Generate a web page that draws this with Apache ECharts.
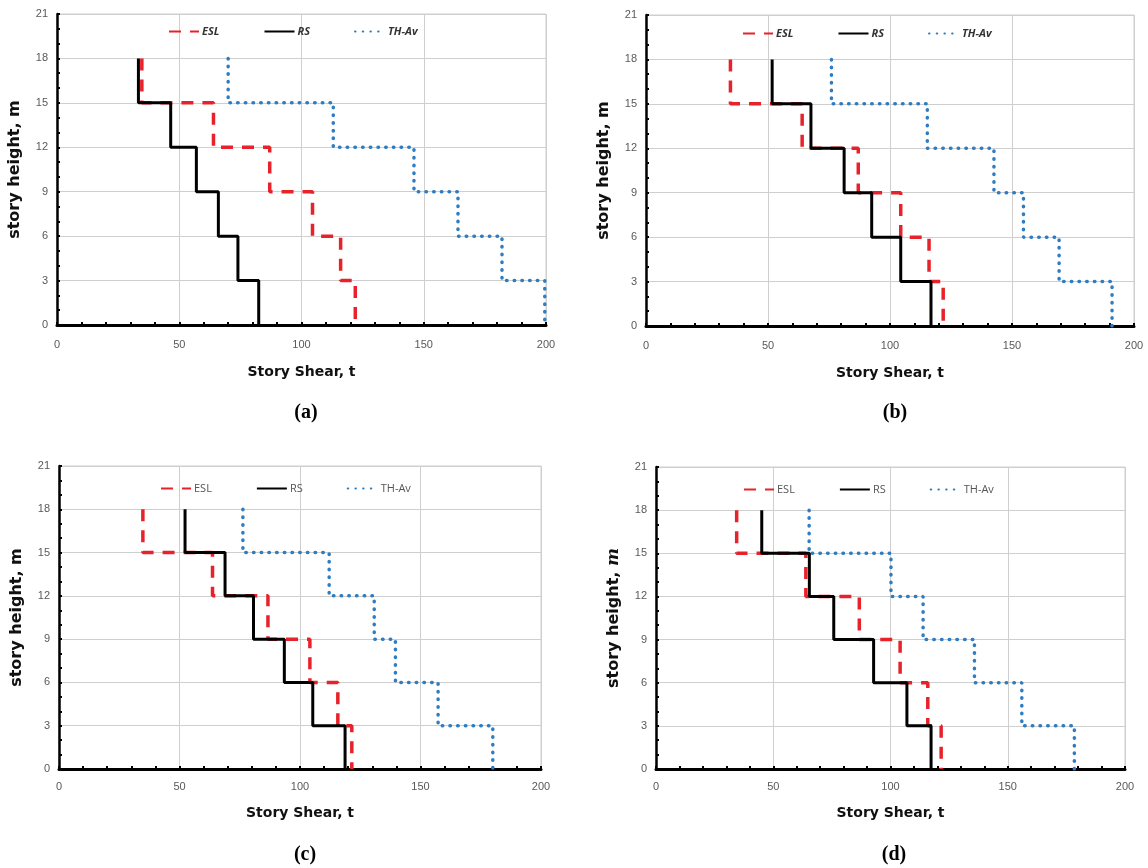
<!DOCTYPE html>
<html>
<head>
<meta charset="utf-8">
<script src="https://cdn.jsdelivr.net/npm/echarts@6/dist/echarts.min.js"></script>
<style>
html,body{margin:0;padding:0;background:#fff;}
#main{width:1148px;height:868px;}
</style>
</head>
<body>
<div id="main"></div>
<script>
// Story levels (top of story down to base), m
const storyLevels = [18, 15, 12, 9, 6, 3, 0];
const yTicks = ['0','3','6','9','12','15','18','21'];
const xTicks = ['0','50','100','150','200'];
const seriesNames = ['ESL', 'RS', 'TH-Av'];
const panelLabels = ['(a)', '(b)', '(c)', '(d)'];

// Story shear (t) per story, from top story to bottom story
const eslA = [34.7, 64, 87, 104.5, 116, 122];
const rsA  = [33.3, 46.5, 57, 66, 74, 82.5];
const thA  = [70, 113, 146, 164, 182, 199.5];

const eslB = [34.6, 64, 87, 104.4, 116, 121.8];
const rsB  = [51.7, 67.6, 81.2, 92.5, 104.4, 116.8];
const thB  = [76, 115.3, 142.6, 154.7, 169.3, 191];

const eslC = [34.8, 63.7, 86.7, 104.1, 115.7, 121.5];
const rsC  = [52.3, 68.9, 80.7, 93.5, 105.3, 118.7];
const thC  = [76.3, 112.1, 130.8, 139.6, 157.3, 180];

const eslD = [34.4, 63.9, 86.7, 104.1, 115.9, 121.6];
const rsD  = [45.1, 65.4, 75.8, 92.8, 107, 117.3];
const thD  = [65.3, 100.2, 113.9, 135.8, 156, 178.4];

const panelData = [
  [eslA, rsA, thA],
  [eslB, rsB, thB],
  [eslC, rsC, thC],
  [eslD, rsD, thD]
];

function stepPoints(vals) {
  const pts = [];
  for (let i = 0; i < vals.length; i++) {
    pts.push([vals[i], storyLevels[i]]);
    pts.push([vals[i], storyLevels[i + 1]]);
  }
  return pts;
}

const grids = [
  {left: 57, right: 602, top: 14, bottom: 543},
  {left: 646, right: 14, top: 15, bottom: 542},
  {left: 59, right: 607, top: 466, bottom: 99},
  {left: 656, right: 23, top: 467, bottom: 99}
];
const legendPos = [
  {left: 163, top: 21, italic: true},
  {left: 737, top: 23, italic: true},
  {left: 155, top: 478, italic: false},
  {left: 738, top: 479, italic: false}
];
const titlePos = [
  {x: 301, y: 398}, {x: 890, y: 398}, {x: 300, y: 840}, {x: 889, y: 840}
];
const xNameGap = [40, 40, 37, 37];
const xLabelMargin = [14, 14, 12, 12];

const styles = [
  {color: '#e8222a', width: 3.5, type: [12, 9], cap: 'butt'},
  {color: '#000000', width: 3, type: 'solid', cap: 'butt'},
  {color: '#2f7cc0', width: 3.5, type: [0.5, 7.2], cap: 'round'}
];

const xAxes = [], yAxes = [], series = [], legends = [], titles = [];
grids.forEach((g, k) => {
  xAxes.push({
    type: 'value', gridIndex: k, min: 0, max: 200, interval: 50,
    name: 'Story Shear, t', nameLocation: 'middle', nameGap: xNameGap[k],
    nameTextStyle: {fontFamily: 'DejaVu Sans', fontWeight: 'bold', fontSize: 14, color: '#111'},
    axisLine: {show: true, onZero: false, lineStyle: {color: '#000', width: 3}},
    axisTick: {show: true, inside: true, length: 3, lineStyle: {color: '#000', width: 2}},
    minorTick: {show: true, splitNumber: 5, length: 3, lineStyle: {color: '#000', width: 2}},
    axisLabel: {color: '#595959', fontSize: 11, fontFamily: 'Liberation Sans', margin: xLabelMargin[k],
      formatter: (v) => xTicks[v / 50]},
    splitLine: {show: true, lineStyle: {color: '#cfcfcf', width: 1}}
  });
  const yName = k === 3 ? '{b|story height, }{i|m}' : 'story height, m';
  yAxes.push({
    type: 'value', gridIndex: k, min: 0, max: 21, interval: 3,
    name: yName, nameLocation: 'middle', nameGap: 34, nameRotate: 90,
    nameTextStyle: {fontFamily: 'DejaVu Sans', fontWeight: 'bold', fontSize: 16, color: '#111',
      rich: {b: {fontFamily: 'DejaVu Sans', fontWeight: 'bold', fontSize: 16, color: '#111'},
             i: {fontFamily: 'DejaVu Serif', fontWeight: 'bold', fontStyle: 'italic', fontSize: 17, color: '#111'}}},
    axisLine: {show: true, onZero: false, lineStyle: {color: '#000', width: 2.5}},
    axisTick: {show: true, inside: true, length: 3, lineStyle: {color: '#000', width: 2}},
    minorTick: {show: true, splitNumber: 3, length: 3, lineStyle: {color: '#000', width: 2}},
    axisLabel: {color: '#595959', fontSize: 11, fontFamily: 'Liberation Sans', margin: 9,
      formatter: (v) => yTicks[v / 3]},
    splitLine: {show: true, lineStyle: {color: '#cfcfcf', width: 1}}
  });
  panelData[k].forEach((vals, s) => {
    series.push({
      type: 'line', name: seriesNames[s], xAxisIndex: k, yAxisIndex: k,
      data: stepPoints(vals), symbol: 'none', silent: true, animation: false,
      z: s === 1 ? 4 : 3,
      lineStyle: {color: styles[s].color, width: styles[s].width, type: styles[s].type, cap: styles[s].cap},
      itemStyle: {color: styles[s].color}
    });
  });
  const lp = legendPos[k];
  legends.push({
    data: seriesNames, left: lp.left, top: lp.top, itemWidth: 30, itemHeight: 12, itemGap: 44,
    selectedMode: false,
    itemStyle: {opacity: 0, borderWidth: 0},
    textStyle: {fontFamily: 'Open Sans', fontSize: 11, color: lp.italic ? '#333' : '#555',
      fontStyle: lp.italic ? 'italic' : 'normal', fontWeight: lp.italic ? 'bold' : 'normal', padding: [0, 0, 0, -2]}
  });
  titles.push({
    text: panelLabels[k], left: titlePos[k].x, top: titlePos[k].y, textAlign: 'center',
    textStyle: {fontFamily: 'Liberation Serif', fontWeight: 'bold', fontSize: 20, color: '#000'}
  });
});

const chart = echarts.init(document.getElementById('main'), null, {renderer: 'canvas'});
chart.setOption({
  backgroundColor: '#ffffff',
  animation: false,
  title: titles,
  legend: legends,
  grid: grids.map(g => Object.assign({show: true, borderColor: '#cfcfcf', borderWidth: 1, backgroundColor: 'transparent'}, g)),
  xAxis: xAxes,
  yAxis: yAxes,
  series: series
});
</script>
</body>
</html>
